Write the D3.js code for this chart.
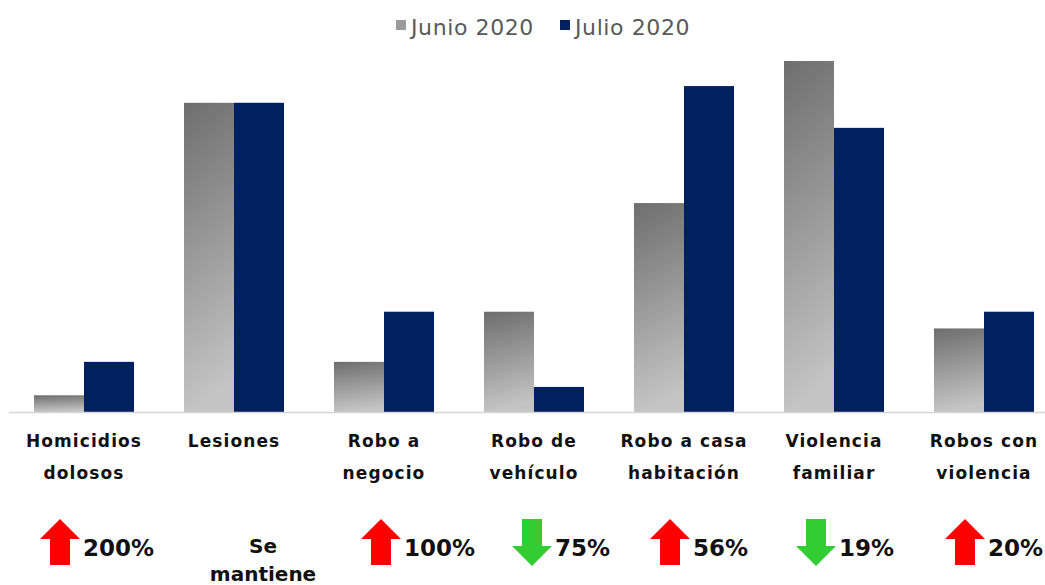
<!DOCTYPE html>
<html>
<head>
<meta charset="utf-8">
<script src="https://cdn.jsdelivr.net/npm/d3@7"></script>
<style>
  body { margin: 0; background: #fff; }
  svg { display: block; font-family: "DejaVu Sans", "Noto Sans", sans-serif; }
</style>
</head>
<body>
<div id="chart"></div>
<script>
// data
const categories = ["Homicidios dolosos", "Lesiones", "Robo a negocio", "Robo de vehículo",
                    "Robo a casa habitación", "Violencia familiar", "Robos con violencia"];
const labelLines = [["Homicidios", "dolosos"], ["Lesiones"], ["Robo a", "negocio"], ["Robo de", "vehículo"],
                    ["Robo a casa", "habitación"], ["Violencia", "familiar"], ["Robos con", "violencia"]];
const junio = [2, 37, 6, 12, 25, 42, 10];
const julio = [6, 37, 12, 3, 39, 34, 12];
const seriesNames = ["Junio 2020", "Julio 2020"];
const changeLabels = ["200%", "Se mantiene", "100%", "75%", "56%", "19%", "20%"];
const changeDir = ["up", "none", "up", "down", "up", "down", "up"];

// layout tweaks for the change arrows (offset from category centre)
const arrowShift = [-24, 29, -3, -2, -14, -18, -19];

const width = 1045, height = 585;
const baseY = 412;

const svg = d3.select("#chart").append("svg")
  .attr("width", width)
  .attr("height", height);

const defs = svg.append("defs");
const grad = defs.append("linearGradient")
  .attr("id", "grayGrad")
  .attr("x1", 0).attr("y1", 0)
  .attr("x2", 0.12).attr("y2", 1);
grad.append("stop").attr("offset", "0%").attr("stop-color", "#6e6e6e");
grad.append("stop").attr("offset", "100%").attr("stop-color", "#c4c4c4");

const x = d3.scaleBand()
  .domain(categories)
  .range([9, 1059])
  .paddingInner(1 / 3)
  .paddingOuter(1 / 6);

const xSub = d3.scaleBand()
  .domain(seriesNames)
  .range([0, x.bandwidth()]);

const y = d3.scaleLinear()
  .domain([0, 42])
  .range([baseY, 61]);

const rows = categories.map((c, i) => ({ cat: c, vals: [junio[i], julio[i]] }));

const fills = ["url(#grayGrad)", "#002060"];

// bars
const groups = svg.append("g")
  .selectAll("g")
  .data(rows)
  .join("g")
  .attr("transform", d => `translate(${x(d.cat)},0)`);

groups.selectAll("rect")
  .data(d => d.vals.map((v, k) => ({ v, k })))
  .join("rect")
  .attr("x", d => xSub(seriesNames[d.k]))
  .attr("y", d => y(d.v))
  .attr("width", xSub.bandwidth())
  .attr("height", d => baseY - y(d.v))
  .attr("fill", d => fills[d.k]);

// baseline
svg.append("line")
  .attr("x1", 9).attr("x2", width)
  .attr("y1", baseY + 0.5).attr("y2", baseY + 0.5)
  .attr("stroke", "#d6d6d6")
  .attr("stroke-width", 1.5);

// category labels
const lab = svg.append("g")
  .selectAll("text")
  .data(rows)
  .join("text")
  .attr("x", d => x(d.cat) + x.bandwidth() / 2)
  .attr("y", 447)
  .attr("text-anchor", "middle")
  .attr("font-size", 17)
  .attr("font-weight", "bold")
  .attr("letter-spacing", 1.1)
  .attr("fill", "#111");

lab.selectAll("tspan")
  .data((d, i) => labelLines[i])
  .join("tspan")
  .attr("x", function () { return d3.select(this.parentNode).attr("x"); })
  .attr("dy", (d, j) => j === 0 ? 0 : 32)
  .text(d => d);

// legend
const legend = svg.append("g");
const legX = [396, 560];
seriesNames.forEach((s, k) => {
  legend.append("rect")
    .attr("x", legX[k]).attr("y", 20)
    .attr("width", 10).attr("height", 10)
    .attr("fill", k === 0 ? "#9a9a9a" : "#002060");
  legend.append("text")
    .attr("x", legX[k] + 15).attr("y", 35)
    .attr("font-size", 22)
    .attr("letter-spacing", 0.6)
    .attr("fill", "#595959")
    .text(s);
});

// change indicators
const upArrow = "M0,-23 L20,-3 L10,-3 L10,23 L-10,23 L-10,-3 L-20,-3 Z";
const downArrow = "M0,24 L20,4 L10,4 L10,-23 L-10,-23 L-10,4 L-20,4 Z";

const ind = svg.append("g")
  .selectAll("g")
  .data(rows)
  .join("g")
  .attr("transform", (d, i) => `translate(${x(d.cat) + x.bandwidth() / 2 + arrowShift[i]},0)`);

ind.each(function (d, i) {
  const g = d3.select(this);
  if (changeDir[i] === "none") {
    const words = changeLabels[i].split(" ");
    g.append("text")
      .attr("text-anchor", "middle")
      .attr("font-size", 20)
      .attr("font-weight", "bold")
      .attr("fill", "#111")
      .selectAll("tspan")
      .data(words)
      .join("tspan")
      .attr("x", 0)
      .attr("y", (w, j) => 553 + j * 28)
      .text(w => w);
    return;
  }
  g.append("path")
    .attr("transform", "translate(0,542)")
    .attr("d", changeDir[i] === "up" ? upArrow : downArrow)
    .attr("fill", changeDir[i] === "up" ? "#ff0000" : "#33cc33");
  g.append("text")
    .attr("x", 23)
    .attr("y", 556)
    .attr("font-size", 23)
    .attr("font-weight", "bold")
    .attr("fill", "#111")
    .text(changeLabels[i]);
});
</script>
</body>
</html>
